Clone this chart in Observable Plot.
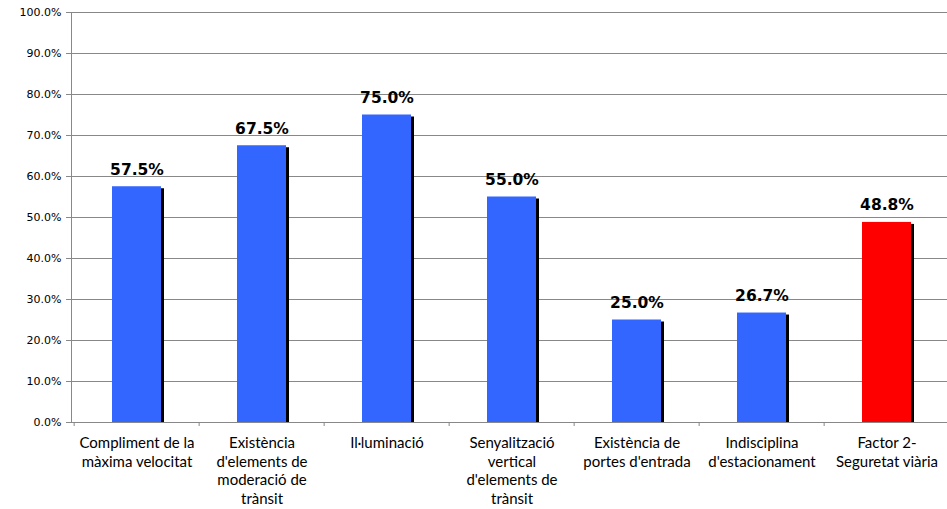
<!DOCTYPE html>
<html>
<head>
<meta charset="utf-8">
<script src="https://cdn.jsdelivr.net/npm/d3@7"></script>
<script src="https://cdn.jsdelivr.net/npm/@observablehq/plot@0.6"></script>
<style>
  html, body { margin: 0; padding: 0; background: #fff; overflow: hidden; }
  #chart { width: 947px; height: 509px; overflow: hidden; }
</style>
</head>
<body>
<div id="chart"></div>
<script>
const categories = [
  "Compliment de la màxima velocitat",
  "Existència d'elements de moderació de trànsit",
  "Il·luminació",
  "Senyalització vertical d'elements de trànsit",
  "Existència de portes d'entrada",
  "Indisciplina d'estacionament",
  "Factor 2- Seguretat viària"
];
const tickLabels = [
  "Compliment de la\nmàxima velocitat",
  "Existència\nd'elements de\nmoderació de\ntrànsit",
  "Il·luminació",
  "Senyalització\nvertical\nd'elements de\ntrànsit",
  "Existència de\nportes d'entrada",
  "Indisciplina\nd'estacionament",
  "Factor 2-\nSeguretat viària"
];
const values = [57.5, 67.5, 75.0, 55.0, 25.0, 26.7, 48.8];
const colors = ["#3366FF", "#3366FF", "#3366FF", "#3366FF", "#3366FF", "#3366FF", "#FF0000"];
const yTicks = [0, 10, 20, 30, 40, 50, 60, 70, 80, 90, 100];

const data = categories.map((c, i) => ({cat: c, value: values[i], color: colors[i], label: tickLabels[i]}));
const labelOf = new Map(data.map(d => [d.cat, d.label]));

const plot = Plot.plot({
  width: 947,
  height: 509,
  marginLeft: 71,
  marginRight: -4,
  marginTop: 12,
  marginBottom: 87,
  style: {background: "#fff", color: "#000", overflow: "hidden"},
  x: {domain: categories, padding: 0},
  y: {domain: [0, 100]},
  marks: [
    Plot.ruleY(yTicks, {stroke: "#888", strokeWidth: 1}),
    Plot.barY(data, {x: "cat", y: "value", fill: "#000", insetLeft: 38, insetRight: 38, dx: 3, dy: 2, clip: true}),
    Plot.barY(data, {x: "cat", y: "value", fill: "color", insetLeft: 38, insetRight: 38}),
    Plot.frame({anchor: "left", stroke: "#888"}),
    Plot.frame({anchor: "bottom", stroke: "#888"}),
    Plot.axisY({ticks: yTicks, tickFormat: d => d.toFixed(1) + "%", tickSize: 5, tickPadding: 5, stroke: "#888",
      fontSize: 11, fontFamily: "DejaVu Sans", label: null}),
    Plot.axisX({tickSize: 4, tickFormat: () => "", stroke: "#888", dx: -62.857, label: null}),
    Plot.axisX({tickSize: 0, tickPadding: 12, tickFormat: d => labelOf.get(d), lineHeight: 1.25,
      fontSize: 15, fontFamily: "Lato", label: null}),
    Plot.text(data, {x: "cat", y: "value", text: d => d.value.toFixed(1) + "%", dy: -12, lineAnchor: "bottom",
      fontWeight: "bold", fontSize: 15.5, fontFamily: "DejaVu Sans", fill: "#000"})
  ]
});
document.getElementById("chart").appendChild(plot);
</script>
</body>
</html>
